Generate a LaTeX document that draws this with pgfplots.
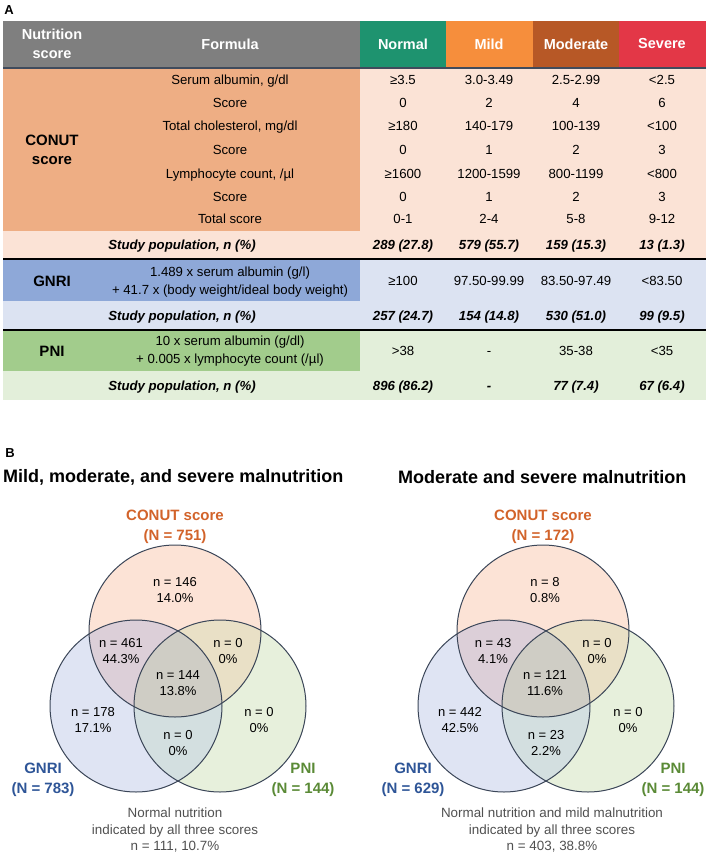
\documentclass[border=0pt]{standalone}
\usepackage{pgfplots}
\pgfplotsset{compat=1.18}
\usepackage{fontspec}
\setmainfont{Liberation Sans}
\newcommand\fs[2]{\fontsize{#1}{#2}\selectfont}
\definecolor{hdrgray}{HTML}{7F7F7F}
\definecolor{cNormal}{HTML}{1E936F}
\definecolor{cMild}{HTML}{F68E3C}
\definecolor{cModerate}{HTML}{B75826}
\definecolor{cSevere}{HTML}{E33747}
\definecolor{hdrline}{HTML}{404B5C}
\definecolor{conutL}{HTML}{EEAE84}
\definecolor{conutLL}{HTML}{FBE3D6}
\definecolor{gnriL}{HTML}{8EA8D8}
\definecolor{gnriLL}{HTML}{DCE3F2}
\definecolor{pniL}{HTML}{A2CC8C}
\definecolor{pniLL}{HTML}{E3EFDA}
\definecolor{vT}{HTML}{FCE3D6}
\definecolor{vG}{HTML}{DFE4F3}
\definecolor{vP}{HTML}{E7F0DC}
\definecolor{vTG}{HTML}{DCCFD8}
\definecolor{vTP}{HTML}{E9E0C6}
\definecolor{vGP}{HTML}{D3DFE0}
\definecolor{vTGP}{HTML}{CFCDC5}
\definecolor{vline}{HTML}{3B4658}
\definecolor{lblT}{HTML}{D2632A}
\definecolor{lblG}{HTML}{2E5597}
\definecolor{lblP}{HTML}{5A8A36}
\definecolor{gtext}{HTML}{505050}
\begin{document}
\begin{tikzpicture}[
  cell/.style={font=\fs{13.2}{15}, inner sep=0pt, text height=9.5pt, text depth=2.7pt, anchor=center},
  scell/.style={cell, font=\fs{13.2}{15}\bfseries\itshape},
  hcell/.style={font=\fs{14.5}{18.5}\bfseries, text=white, inner sep=0pt, align=center, anchor=center},
  lcell/.style={font=\fs{15}{19}\bfseries, inner sep=0pt, align=center, anchor=center},
  fcell/.style={font=\fs{13.2}{17.5}, inner sep=0pt, align=center, anchor=center},
  vtxt/.style={font=\fs{13}{16}, inner sep=0pt, align=center, anchor=center},
  vlbl/.style={font=\fs{15}{20}\bfseries, inner sep=0pt, align=center, anchor=center},
  btxt/.style={font=\fs{13.4}{16.5}, text=gtext, inner sep=0pt, align=center, anchor=center}
]
\begin{axis}[x=1pt, y=1pt, xmin=0, xmax=709, ymin=0, ymax=855, y dir=reverse,
  hide axis, clip=false]
\path (axis cs:0,0) rectangle (axis cs:709,855);
% ---------- Table A ----------
\node[font=\fs{13}{15}\bfseries, inner sep=0pt, anchor=center] at (axis cs:9,10) {A};
\fill[hdrgray] (axis cs:3,21) rectangle (axis cs:360,68);
\fill[cNormal] (axis cs:360,21) rectangle (axis cs:446,68);
\fill[cMild] (axis cs:446,21) rectangle (axis cs:533,68);
\fill[cModerate] (axis cs:533,21) rectangle (axis cs:619,68);
\fill[cSevere] (axis cs:619,21) rectangle (axis cs:706,68);
\fill[conutL] (axis cs:3,68) rectangle (axis cs:360,231);
\fill[conutLL] (axis cs:360,68) rectangle (axis cs:706,231);
\fill[conutLL] (axis cs:3,231) rectangle (axis cs:706,259);
\fill[gnriL] (axis cs:3,259) rectangle (axis cs:360,301);
\fill[gnriLL] (axis cs:360,259) rectangle (axis cs:706,301);
\fill[gnriLL] (axis cs:3,301) rectangle (axis cs:706,330);
\fill[pniL] (axis cs:3,330) rectangle (axis cs:360,371);
\fill[pniLL] (axis cs:360,330) rectangle (axis cs:706,371);
\fill[pniLL] (axis cs:3,371) rectangle (axis cs:706,400);
\draw[hdrline, line width=1.5pt] (axis cs:3,68) -- (axis cs:706,68);
\draw[black, line width=1.4pt] (axis cs:3,259) -- (axis cs:706,259);
\draw[black, line width=1.4pt] (axis cs:3,330) -- (axis cs:706,330);
% header text
\node[hcell] at (axis cs:52,44) {Nutrition\\score};
\node[hcell] at (axis cs:230,44) {Formula};
\node[hcell] at (axis cs:403,44) {Normal};
\node[hcell] at (axis cs:489,44) {Mild};
\node[hcell] at (axis cs:576,44) {Moderate};
\node[hcell] at (axis cs:662,44) {Severe};
% CONUT
\node[lcell] at (axis cs:52,150) {CONUT\\score};
\node[cell] at (axis cs:230,81) {Serum albumin, g/dl};
\node[cell] at (axis cs:403,81) {≥3.5};
\node[cell] at (axis cs:489,81) {3.0-3.49};
\node[cell] at (axis cs:576,81) {2.5-2.99};
\node[cell] at (axis cs:662,81) {<2.5};
\node[cell] at (axis cs:230,104) {Score};
\node[cell] at (axis cs:403,104) {0};
\node[cell] at (axis cs:489,104) {2};
\node[cell] at (axis cs:576,104) {4};
\node[cell] at (axis cs:662,104) {6};
\node[cell] at (axis cs:230,127) {Total cholesterol, mg/dl};
\node[cell] at (axis cs:403,127) {≥180};
\node[cell] at (axis cs:489,127) {140-179};
\node[cell] at (axis cs:576,127) {100-139};
\node[cell] at (axis cs:662,127) {<100};
\node[cell] at (axis cs:230,151) {Score};
\node[cell] at (axis cs:403,151) {0};
\node[cell] at (axis cs:489,151) {1};
\node[cell] at (axis cs:576,151) {2};
\node[cell] at (axis cs:662,151) {3};
\node[cell] at (axis cs:230,175) {Lymphocyte count, /µl};
\node[cell] at (axis cs:403,175) {≥1600};
\node[cell] at (axis cs:489,175) {1200-1599};
\node[cell] at (axis cs:576,175) {800-1199};
\node[cell] at (axis cs:662,175) {<800};
\node[cell] at (axis cs:230,198) {Score};
\node[cell] at (axis cs:403,198) {0};
\node[cell] at (axis cs:489,198) {1};
\node[cell] at (axis cs:576,198) {2};
\node[cell] at (axis cs:662,198) {3};
\node[cell] at (axis cs:230,220) {Total score};
\node[cell] at (axis cs:403,220) {0-1};
\node[cell] at (axis cs:489,220) {2-4};
\node[cell] at (axis cs:576,220) {5-8};
\node[cell] at (axis cs:662,220) {9-12};
\node[scell] at (axis cs:182,246) {Study population, n (\%)};
\node[scell] at (axis cs:403,246) {289 (27.8)};
\node[scell] at (axis cs:489,246) {579 (55.7)};
\node[scell] at (axis cs:576,246) {159 (15.3)};
\node[scell] at (axis cs:662,246) {13 (1.3)};
% GNRI
\node[lcell] at (axis cs:52,281) {GNRI};
\node[fcell] at (axis cs:230,282) {1.489 x serum albumin (g/l)\\+ 41.7 x (body weight/ideal body weight)};
\node[cell] at (axis cs:403,282) {≥100};
\node[cell] at (axis cs:489,282) {97.50-99.99};
\node[cell] at (axis cs:576,282) {83.50-97.49};
\node[cell] at (axis cs:662,282) {<83.50};
\node[scell] at (axis cs:182,317) {Study population, n (\%)};
\node[scell] at (axis cs:403,317) {257 (24.7)};
\node[scell] at (axis cs:489,317) {154 (14.8)};
\node[scell] at (axis cs:576,317) {530 (51.0)};
\node[scell] at (axis cs:662,317) {99 (9.5)};
% PNI
\node[lcell] at (axis cs:52,351) {PNI};
\node[fcell] at (axis cs:230,351) {10 x serum albumin (g/dl)\\+ 0.005 x lymphocyte count (/µl)};
\node[cell] at (axis cs:403,352) {>38};
\node[cell] at (axis cs:489,352) {-};
\node[cell] at (axis cs:576,352) {35-38};
\node[cell] at (axis cs:662,352) {<35};
\node[scell] at (axis cs:182,387) {Study population, n (\%)};
\node[scell] at (axis cs:403,387) {896 (86.2)};
\node[scell] at (axis cs:489,387) {-};
\node[scell] at (axis cs:576,387) {77 (7.4)};
\node[scell] at (axis cs:662,387) {67 (6.4)};
% ---------- Panel B ----------
\node[font=\fs{13}{15}\bfseries, inner sep=0pt, anchor=center] at (axis cs:10,453) {B};
\node[font=\fs{18}{20}\bfseries, inner sep=0pt, anchor=west] at (axis cs:3,477) {Mild, moderate, and severe malnutrition};
\node[font=\fs{18}{20}\bfseries, inner sep=0pt, anchor=west] at (axis cs:398,477) {Moderate and severe malnutrition};
% Left Venn
\fill[vT] (axis cs:175,631) circle[radius=86pt];
\fill[vG] (axis cs:136,706) circle[radius=86pt];
\fill[vP] (axis cs:220,706) circle[radius=86pt];
\begin{scope}\clip (axis cs:175,631) circle[radius=86pt]; \fill[vTG] (axis cs:136,706) circle[radius=86pt];\end{scope}
\begin{scope}\clip (axis cs:175,631) circle[radius=86pt]; \fill[vTP] (axis cs:220,706) circle[radius=86pt];\end{scope}
\begin{scope}\clip (axis cs:136,706) circle[radius=86pt]; \fill[vGP] (axis cs:220,706) circle[radius=86pt];\end{scope}
\begin{scope}\clip (axis cs:175,631) circle[radius=86pt]; \clip (axis cs:136,706) circle[radius=86pt]; \fill[vTGP] (axis cs:220,706) circle[radius=86pt];\end{scope}
\draw[vline, line width=1pt] (axis cs:175,631) circle[radius=86pt];
\draw[vline, line width=1pt] (axis cs:136,706) circle[radius=86pt];
\draw[vline, line width=1pt] (axis cs:220,706) circle[radius=86pt];
% Right Venn
\fill[vT] (axis cs:543,631) circle[radius=86pt];
\fill[vG] (axis cs:504,706) circle[radius=86pt];
\fill[vP] (axis cs:588,706) circle[radius=86pt];
\begin{scope}\clip (axis cs:543,631) circle[radius=86pt]; \fill[vTG] (axis cs:504,706) circle[radius=86pt];\end{scope}
\begin{scope}\clip (axis cs:543,631) circle[radius=86pt]; \fill[vTP] (axis cs:588,706) circle[radius=86pt];\end{scope}
\begin{scope}\clip (axis cs:504,706) circle[radius=86pt]; \fill[vGP] (axis cs:588,706) circle[radius=86pt];\end{scope}
\begin{scope}\clip (axis cs:543,631) circle[radius=86pt]; \clip (axis cs:504,706) circle[radius=86pt]; \fill[vTGP] (axis cs:588,706) circle[radius=86pt];\end{scope}
\draw[vline, line width=1pt] (axis cs:543,631) circle[radius=86pt];
\draw[vline, line width=1pt] (axis cs:504,706) circle[radius=86pt];
\draw[vline, line width=1pt] (axis cs:588,706) circle[radius=86pt];
% Left Venn text
\node[vlbl, text=lblT] at (axis cs:175,527) {CONUT score\\(N = 751)};
\node[vlbl, text=lblG] at (axis cs:43,780) {GNRI\\(N = 783)};
\node[vlbl, text=lblP] at (axis cs:303,780) {PNI\\(N = 144)};
\node[vtxt] at (axis cs:175,590) {n = 146\\14.0\%};
\node[vtxt] at (axis cs:121,651) {n = 461\\44.3\%};
\node[vtxt] at (axis cs:228,651) {n = 0\\0\%};
\node[vtxt] at (axis cs:178,683) {n = 144\\13.8\%};
\node[vtxt] at (axis cs:93,720) {n = 178\\17.1\%};
\node[vtxt] at (axis cs:259,720) {n = 0\\0\%};
\node[vtxt] at (axis cs:178,743) {n = 0\\0\%};
\node[btxt] at (axis cs:175,830) {Normal nutrition\\indicated by all three scores\\n = 111, 10.7\%};
% Right Venn text
\node[vlbl, text=lblT] at (axis cs:543,527) {CONUT score\\(N = 172)};
\node[vlbl, text=lblG] at (axis cs:413,780) {GNRI\\(N = 629)};
\node[vlbl, text=lblP] at (axis cs:673,780) {PNI\\(N = 144)};
\node[vtxt] at (axis cs:545,590) {n = 8\\0.8\%};
\node[vtxt] at (axis cs:493,651) {n = 43\\4.1\%};
\node[vtxt] at (axis cs:597,651) {n = 0\\0\%};
\node[vtxt] at (axis cs:545,683) {n = 121\\11.6\%};
\node[vtxt] at (axis cs:460,720) {n = 442\\42.5\%};
\node[vtxt] at (axis cs:628,720) {n = 0\\0\%};
\node[vtxt] at (axis cs:546,743) {n = 23\\2.2\%};
\node[btxt] at (axis cs:552,830) {Normal nutrition and mild malnutrition\\indicated by all three scores\\n = 403, 38.8\%};
\end{axis}
\end{tikzpicture}
\end{document}
